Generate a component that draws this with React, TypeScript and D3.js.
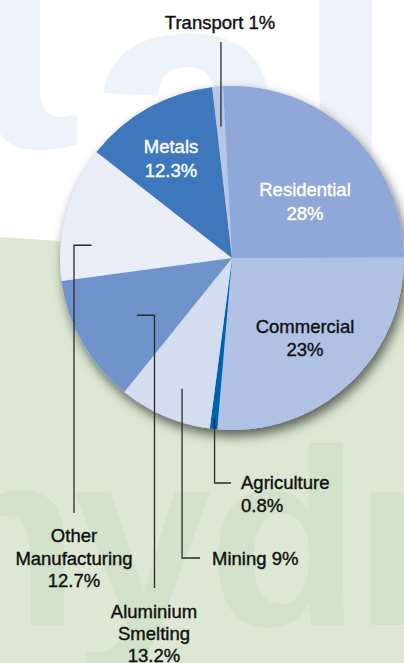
import React, { useEffect, useRef } from 'react';
import * as d3 from 'd3';

// sectors, clockwise from 12 o'clock
const sectors = ['Residential', 'Commercial', 'Agriculture', 'Mining', 'Aluminium Smelting', 'Other Manufacturing', 'Metals', 'Transport'];
// share printed on the chart
const printedShare = ['28%', '23%', '0.8%', '9%', '13.2%', '12.7%', '12.3%', '1%'];
// share of the circle each wedge actually covers in the drawing (%)
const drawnShare = [25.8, 26.4, 0.7, 8.7, 12.1, 12.7, 12.6, 1.0];
const sliceColors = ['#8fa8d7', '#b0c2e3', '#0062ae', '#d3ddef', '#6f93ca', '#e8edf6', '#3f77bd', '#b6c7e6'];

const W = 404;
const H = 663;
const FONT = '"Liberation Sans", Arial, Helvetica, sans-serif';

const App: React.FC = () => {
  const svgRef = useRef<SVGSVGElement>(null);

  useEffect(() => {
    if (!svgRef.current) return;
    const svg = d3.select(svgRef.current);
    svg.selectAll('*').remove();

    const cx = 232, cy = 258, R = 172;

    // drop shadow for the pie
    const defs = svg.append('defs');
    const f = defs.append('filter').attr('id', 'pieShadow')
      .attr('x', '-20%').attr('y', '-20%').attr('width', '140%').attr('height', '140%');
    f.append('feDropShadow')
      .attr('dx', 3).attr('dy', 6).attr('stdDeviation', 6)
      .attr('flood-color', '#000').attr('flood-opacity', 0.6);

    // background: white top with pale blue letters, green bottom with darker green letters
    svg.append('rect').attr('width', W).attr('height', H).attr('fill', '#ffffff');
    const top = svg.append('g').attr('fill', '#eef3fa').attr('aria-hidden', 'true')
      .style('font-family', FONT).style('font-weight', 'bold');
    top.append('text').attr('x', -35).attr('y', 147).style('font-size', '350px').text('t');
    top.append('text').attr('x', 83).attr('y', 238).style('font-size', '380px').text('a');
    top.append('text').attr('x', 293).attr('y', 238).style('font-size', '380px').text('l');

    svg.append('path')
      .attr('d', d3.line()([[0, 237], [W, 264], [W, H], [0, H]]) + 'Z')
      .attr('fill', '#dce8d3');
    const bottom = svg.append('g').attr('fill', '#d2e2c8').attr('aria-hidden', 'true')
      .style('font-family', FONT).style('font-weight', 'bold').style('font-size', '250px');
    bottom.append('text').attr('x', -73).attr('y', 625).text('h');
    bottom.append('text').attr('x', 142).attr('y', 625).attr('text-anchor', 'middle').text('y');
    bottom.append('text').attr('x', 208).attr('y', 625).text('d');
    bottom.append('text').attr('x', 354).attr('y', 625).text('r');

    // pie
    const deg = Math.PI / 180;
    const pie = d3.pie<number>().sort(null).value(d => d)
      .startAngle(-3 * deg).endAngle(357 * deg);
    const arcs = pie(drawnShare);
    const arc = d3.arc<d3.PieArcDatum<number>>().innerRadius(0).outerRadius(R);

    const g = svg.append('g').attr('transform', `translate(${cx},${cy})`);
    g.append('circle').attr('r', R).attr('fill', '#b0c2e3').attr('filter', 'url(#pieShadow)');
    g.selectAll('path.slice')
      .data(arcs)
      .enter()
      .append('path')
      .attr('class', 'slice')
      .attr('d', arc)
      .attr('fill', (_d, i) => sliceColors[i]);

    // polar helper in pie coordinates (angle 0 = 12 o'clock)
    const polar = (a: number, r: number): [number, number] => [cx + r * Math.sin(a), cy - r * Math.cos(a)];
    const mid = (i: number) => (arcs[i].startAngle + arcs[i].endAngle) / 2;

    // leader lines
    const leaders: [number, number][][] = [];
    const idx = (name: string) => sectors.indexOf(name);
    {
      const p = polar(mid(idx('Transport')), 132);
      leaders.push([p, [p[0], 42]]);
    }
    {
      const p = polar(mid(idx('Agriculture')), 162);
      leaders.push([p, [p[0], 483], [231, 483]]);
    }
    {
      const p = polar(mid(idx('Mining')) - 2.2 * deg, 140);
      leaders.push([p, [p[0], 558], [200, 558]]);
    }
    {
      const p = polar(mid(idx('Aluminium Smelting')) - 1.6 * deg, 111);
      leaders.push([p, [154.5, p[1]], [154.5, 588]]);
    }
    {
      const p = polar(mid(idx('Other Manufacturing')) - 10 * deg, 141);
      leaders.push([p, [74, p[1]], [74, 513]]);
    }
    svg.append('g')
      .selectAll('path')
      .data(leaders)
      .enter()
      .append('path')
      .attr('d', d => d3.line()(d))
      .attr('fill', 'none')
      .attr('stroke', '#2a2a2a')
      .attr('stroke-width', 1.3);

    // labels
    const labelText = (i: number) => {
      const name = sectors[i];
      if (name === 'Transport') return [`${name} ${printedShare[i]}`];
      if (name === 'Mining') return [`${name} ${printedShare[i]}`];
      if (name === 'Aluminium Smelting') return ['Aluminium', 'Smelting', printedShare[i]];
      if (name === 'Other Manufacturing') return ['Other', 'Manufacturing', printedShare[i]];
      return [name, printedShare[i]];
    };
    const labels: { i: number; x: number; y: number; anchor: string; fill: string; lh: number }[] = [
      { i: idx('Transport'), x: 220, y: 29, anchor: 'middle', fill: '#111', lh: 23 },
      { i: idx('Metals'), x: 171, y: 153, anchor: 'middle', fill: '#fff', lh: 23.5 },
      { i: idx('Residential'), x: 305, y: 196, anchor: 'middle', fill: '#fff', lh: 23.5 },
      { i: idx('Commercial'), x: 305, y: 333, anchor: 'middle', fill: '#111', lh: 22.5 },
      { i: idx('Agriculture'), x: 241, y: 489, anchor: 'start', fill: '#111', lh: 23 },
      { i: idx('Mining'), x: 212, y: 565, anchor: 'start', fill: '#111', lh: 23 },
      { i: idx('Other Manufacturing'), x: 74, y: 542, anchor: 'middle', fill: '#111', lh: 22.5 },
      { i: idx('Aluminium Smelting'), x: 154, y: 618, anchor: 'middle', fill: '#111', lh: 22.2 },
    ];
    const lg = svg.append('g').style('font-family', FONT).style('font-size', '18.5px');
    labels.forEach(l => {
      const t = lg.append('text')
        .attr('x', l.x).attr('y', l.y)
        .attr('text-anchor', l.anchor)
        .attr('fill', l.fill)
        .attr('stroke', l.fill)
        .attr('stroke-width', 0.4);
      labelText(l.i).forEach((line, k) => {
        t.append('tspan').attr('x', l.x).attr('dy', k === 0 ? 0 : l.lh).text(line);
      });
    });
  }, []);

  return (
    <svg
      ref={svgRef}
      width={W}
      height={H}
      viewBox={`0 0 ${W} ${H}`}
      style={{ position: 'absolute', left: 0, top: 0, display: 'block' }}
    />
  );
};

export default App;
